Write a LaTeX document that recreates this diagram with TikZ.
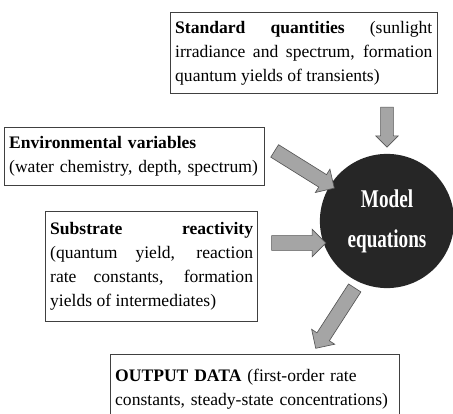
\documentclass[tikz,border=0pt]{standalone}
\usepackage{fontspec}
\setmainfont{Liberation Serif}
\usetikzlibrary{shapes.arrows,positioning,calc}
\definecolor{arrowgray}{RGB}{165,165,165}
\definecolor{arrowedge}{RGB}{85,85,85}
\definecolor{modeldark}{RGB}{38,38,38}
\newcommand{\modelfont}{\fontsize{16}{25}\selectfont\bfseries}
\hyphenpenalty=10000
\exhyphenpenalty=10000

\begin{document}
\begin{tikzpicture}[x=0.022cm, y=-0.022cm,
    infobox/.style={draw=black!75, line width=0.5pt, inner xsep=3pt, inner ysep=5.5pt,
        font=\fontsize{11}{15}\selectfont, anchor=north west},
    blockarr/.style={single arrow, draw=arrowedge, fill=arrowgray, line width=0.4pt,
        inner xsep=0pt, inner ysep=4.4pt, single arrow head extend=4pt,
        sloped, allow upside down}]
    \clip (0,0) rectangle (453,414);

    % --- Input boxes ---
    \node[infobox, text width=161pt, align=justify] (std) at (170,12)
        {\textbf{Standard quantities} (sunlight\linebreak irradiance and spectrum, formation\linebreak quantum yields of transients)};
    \node[infobox, text width=157pt, align=left] (env) at (4,127)
        {\textbf{Environmental variables}\\(water chemistry, depth, spectrum)};
    \node[infobox, text width=127pt, align=justify, inner ysep=7pt] (sub) at (45,211)
        {\textbf{Substrate reactivity}\linebreak (quantum yield, reaction\linebreak rate constants, formation\linebreak yields of intermediates)};

    % --- Model ---
    \node[circle, fill=modeldark, minimum size=84pt, inner sep=0pt, text=white,
        font=\modelfont, align=center] (model) at (387,221)
        {\scalebox{.75}[1]{Model}\\\scalebox{.75}[1]{equations}};

    % --- Output box ---
    \node[infobox, text width=175pt, align=left, minimum height=44pt] (out) at (110,354)
        {\textbf{OUTPUT DATA} (first-order rate constants, steady-state concentrations)};

    % --- Block arrows ---
    \coordinate (stdout) at (std.south -| model.north);
    \coordinate (envout) at ($(env.north east)+(0,18)$);
    \coordinate (subout) at ($(sub.north east)+(0,32)$);
    \coordinate (outtip) at ($(out.north east)+(-84,-6)$);
    \path (stdout) -- node[blockarr, inner ysep=3.8pt, single arrow head extend=3pt,
        minimum height=25pt] {} (model.north);
    \path (envout) -- node[blockarr, pos=0.56, minimum height=44pt] {} (model);
    \path (subout) -- node[blockarr, pos=0.6, minimum height=34pt] {} (subout -| model.west);
    \path (model.245) -- node[blockarr, minimum height=45pt] {} (outtip);
\end{tikzpicture}
\end{document}
